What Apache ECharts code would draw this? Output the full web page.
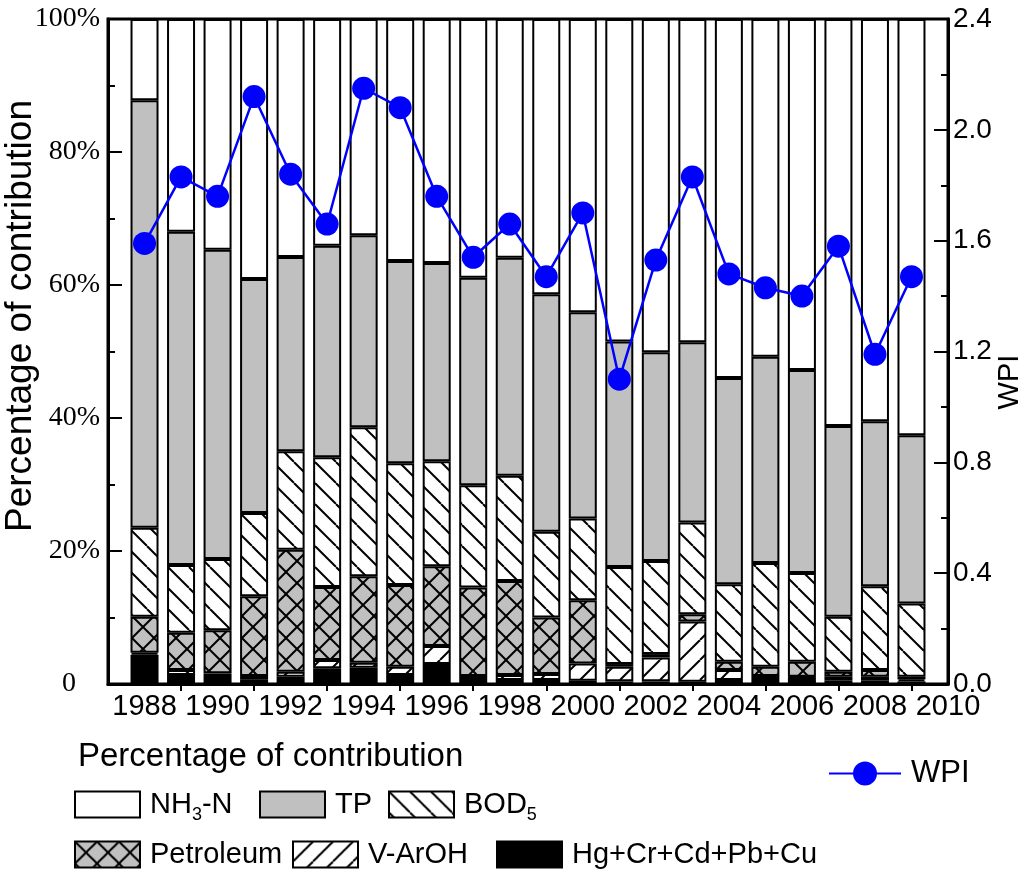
<!DOCTYPE html>
<html><head><meta charset="utf-8">
<script src="https://cdn.jsdelivr.net/npm/echarts@6/dist/echarts.min.js"></script>
<style>html,body{margin:0;padding:0;background:#fff}#c{width:1024px;height:875px}</style>
</head><body><div id="c"></div>
<script>
// ---- data ----
const years = [1988,1989,1990,1991,1992,1993,1994,1995,1996,1997,1998,1999,2000,2001,2002,2003,2004,2005,2006,2007,2008,2009];
const axisStart = 1987, axisEnd = 2010;   // axis span (empty slots at the two ends)
// segment sizes in % (bottom to top)
const hg        = [4.4,1.35,1.2,0.7,1.1,2.35,2.45,1.35,3.0,0.6,0.6,0.6,0.5,0.4,0.4,0.35,0.6,0.6,1.0,0.5,0.5,0.4];
const varoh     = [0.3,0.75,0.4,0.5,0.75,1.25,0.75,1.25,2.7,0.6,0.75,0.9,2.6,2.2,3.6,9.05,1.5,0.6,0.1,0.6,0.6,0.3];
const petroleum = [5.4,5.6,6.5,12.0,18.35,11.0,13.0,12.3,12.0,13.3,14.15,8.5,9.5,0.4,0.5,1.1,1.25,1.4,2.25,0.75,1.0,0.4];
const bod5      = [13.4,10.2,10.7,12.5,14.8,19.5,22.4,18.3,15.8,15.4,15.8,12.9,12.3,14.6,14.0,13.8,11.65,15.6,13.35,8.25,12.6,11.0];
const tp        = [64.3,50.1,46.5,35.2,29.2,31.8,28.9,30.4,29.8,31.2,32.8,35.7,31.0,33.9,31.4,27.1,31.0,31.0,30.5,28.7,24.8,25.3];
const nh3n      = [12.2,32.0,34.7,39.1,35.8,34.1,32.5,36.4,36.7,38.9,35.9,41.4,44.1,48.5,50.1,48.6,54.0,50.8,52.8,61.2,60.5,62.6];
const wpi       = [1.59,1.83,1.76,2.12,1.84,1.66,2.15,2.08,1.76,1.54,1.66,1.47,1.70,1.10,1.53,1.83,1.48,1.43,1.40,1.58,1.19,1.47];

// axis categories: every year from axisStart to axisEnd
const cats = [];
for (let y = axisStart; y <= axisEnd; y++) cats.push(String(y));
function onAxis(arr) { return cats.map(c => { const i = years.indexOf(+c); return i < 0 ? '-' : arr[i]; }); }

// ---- patterns ----
function hatch(bg, dirs, s, lw) {
  const c = document.createElement('canvas');
  c.width = s; c.height = s;
  const g = c.getContext('2d');
  g.fillStyle = bg; g.fillRect(0,0,s,s);
  g.strokeStyle = '#000'; g.lineWidth = lw;
  dirs.forEach(d => {
    for (let k=-1;k<=1;k++) {
      g.beginPath();
      if (d === '\\') { g.moveTo(k*s, 0); g.lineTo(k*s+s, s); }
      else { g.moveTo(k*s, s); g.lineTo(k*s+s, 0); }
      g.stroke();
    }
  });
  return {image: c, repeat: 'repeat'};
}
const patBOD = hatch('#ffffff', ['\\'], 21, 2);
const patPet = hatch('#c0c0c0', ['\\','/'], 22, 2);
const patV   = hatch('#ffffff', ['/'], 20, 2);

function barSeries(name, arr, color) {
  return {
    name, type: 'bar', stack: 'total', barWidth: 28,
    data: onAxis(arr),
    itemStyle: {color, borderColor: '#000', borderWidth: 2},
    emphasis: {disabled: true}, z: 2
  };
}

const SANS = 'Liberation Sans';
const SERIF = 'Liberation Serif';
const legText = {
  fontFamily: SANS, fontSize: 29, color: '#000', padding: [0,0,0,5],
  rich: { s: {fontFamily: SANS, fontSize: 18, color:'#000', padding: [22,0,0,0]} }
};
function leg(name, left, top, label) {
  return {
    data: [name], left, top, padding: 0, itemWidth: 65, itemHeight: 26,
    icon: 'rect', selectedMode: false, formatter: () => label, textStyle: legText
  };
}

const chart = echarts.init(document.getElementById('c'), null, {renderer: 'canvas'});
chart.setOption({
  animation: false,
  backgroundColor: '#fff',
  grid: {left: 108, right: 76, top: 19, bottom: 191, show: true, borderColor: '#000', borderWidth: 3, backgroundColor: 'transparent'},
  xAxis: {
    type: 'category', data: cats, boundaryGap: false,
    axisLine: {lineStyle: {color: '#000', width: 3}},
    axisTick: {show: true, length: 7, lineStyle: {color:'#000', width: 2},
      interval: (i, v) => (+v) % 2 === 1 && +v !== axisStart},
    axisLabel: {fontFamily: SANS, fontSize: 29, color: '#000', margin: 8,
      interval: (i, v) => (+v) % 2 === 0},
    splitLine: {show: false}
  },
  yAxis: [{
    type: 'value', min: 0, max: 100, interval: 20, position: 'left',
    axisLine: {show: true, lineStyle: {color: '#000', width: 3}},
    axisTick: {show: true, inside: true, length: 14, lineStyle: {color:'#000', width: 2}},
    minorTick: {show: true, splitNumber: 2, length: 7, lineStyle: {color:'#000', width: 2}},
    axisLabel: {fontFamily: SERIF, fontSize: 28, color: '#000', margin: 8,
      formatter: v => v === 0 ? '{z|0}' : v + '%',
      rich: {z: {fontFamily: SERIF, fontSize: 28, color:'#000', padding: [0,24,0,0]}}},
    splitLine: {show: false}
  },{
    type: 'value', min: 0, max: 2.4, interval: 0.4, position: 'right',
    axisLine: {show: true, lineStyle: {color: '#000', width: 3}},
    axisTick: {show: true, inside: true, length: 14, lineStyle: {color:'#000', width: 2}},
    minorTick: {show: true, splitNumber: 2, length: 7, lineStyle: {color:'#000', width: 2}},
    axisLabel: {fontFamily: SANS, fontSize: 28, color: '#000', margin: 5, formatter: v => v.toFixed(1)},
    splitLine: {show: false}
  }],
  legend: [
    leg('Hg+Cr+Cd+Pb+Cu', 496, 840, 'Hg+Cr+Cd+Pb+Cu'),
    leg('V-ArOH', 292, 840, 'V-ArOH'),
    leg('Petroleum', 74, 840, 'Petroleum'),
    leg('BOD5', 388, 790, 'BOD{s|5}'),
    leg('TP', 259, 790, 'TP'),
    leg('NH3-N', 74, 790, 'NH{s|3}-N'),
    {data: ['WPI'], left: 828, top: 758, padding: 0, itemWidth: 72, itemHeight: 30, selectedMode: false,
     textStyle: {fontFamily: SANS, fontSize: 31, color: '#000', padding: [0,0,0,5]}}
  ],
  graphic: [
    {type: 'text', left: 78, top: 740, style: {text: 'Percentage of contribution', font: '33px "Liberation Sans"', fill: '#000'}},
    {type: 'text', x: 21, y: 316, rotation: Math.PI/2, style: {text: 'Percentage of contribution', font: '37px "Liberation Sans"', fill: '#000', align: 'center', verticalAlign: 'middle'}},
    {type: 'text', x: 1010, y: 382, rotation: Math.PI/2, style: {text: 'WPI', font: '29px "Liberation Sans"', fill: '#000', align: 'center', verticalAlign: 'middle'}}
  ],
  series: [
    barSeries('Hg+Cr+Cd+Pb+Cu', hg, '#000000'),
    barSeries('V-ArOH', varoh, patV),
    barSeries('Petroleum', petroleum, patPet),
    barSeries('BOD5', bod5, patBOD),
    barSeries('TP', tp, '#c0c0c0'),
    barSeries('NH3-N', nh3n, '#ffffff'),
    {
      name: 'WPI', type: 'line', yAxisIndex: 1,
      data: onAxis(wpi), connectNulls: false,
      symbol: 'circle', symbolSize: 23,
      itemStyle: {color: '#0000ff'},
      lineStyle: {color: '#0000ff', width: 2.5},
      emphasis: {disabled: true}, z: 5
    }
  ]
});
</script></body></html>
